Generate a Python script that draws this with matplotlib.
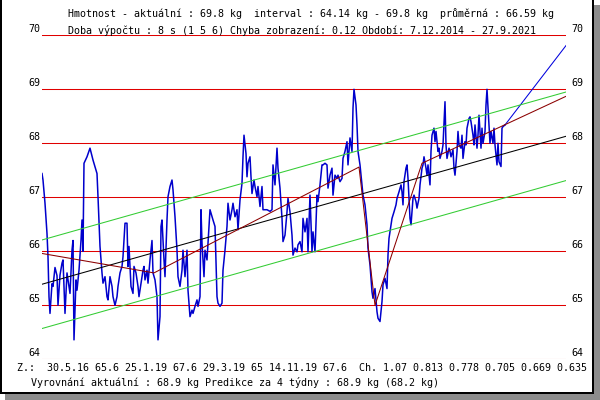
import matplotlib
matplotlib.use("Agg")
import matplotlib.pyplot as plt
import matplotlib.patches as patches
import matplotlib.transforms as mtransforms
import numpy as np

# weight samples (time in plot steps, weight in kg)
t = [0, 1, 3, 5, 6, 7, 8, 10, 11, 13,
     15, 16, 18, 20, 21, 23, 25, 26, 28, 30,
     31, 32, 34, 35, 37, 39, 40, 41, 42, 45,
     48, 51, 55, 56, 58, 60, 61, 63, 65, 66,
     68, 70, 71, 73, 75, 76, 78, 80, 81, 83,
     85, 86, 87, 89, 91, 92, 94, 96, 97, 99,
     101, 102, 103, 105, 106, 108, 110, 111, 113, 115,
     116, 118, 119, 120, 122, 123, 125, 126, 128, 130,
     131, 133, 135, 136, 138, 140, 141, 143, 145, 146,
     148, 150, 151, 153, 155, 156, 158, 159, 160, 162,
     163, 165, 166, 168, 170, 171, 173, 175, 176, 178,
     180, 181, 183, 185, 186, 188, 190, 191, 193, 195,
     196, 198, 200, 201, 202, 204, 205, 206, 208, 209,
     210, 212, 213, 215, 216, 218, 220, 221, 225, 228,
     230, 231, 233, 235, 236, 238, 240, 241, 243, 245,
     246, 248, 250, 251, 253, 255, 256, 258, 260, 261,
     263, 265, 266, 268, 270, 271, 273, 275, 276, 278,
     280, 281, 283, 285, 286, 288, 290, 291, 293, 295,
     296, 298, 300, 301, 303, 305, 306, 308, 310, 311,
     312, 314, 315, 316, 318, 320, 321, 323, 325, 326,
     328, 330, 331, 333, 335, 336, 338, 340, 341, 343,
     345, 346, 347, 349, 350, 352, 354, 355, 357, 359,
     360, 361, 362, 364, 365, 366, 367, 368, 369, 371,
     372, 374, 375, 377, 378, 380, 381, 382, 384, 385,
     386, 388, 389, 390, 392, 393, 394, 396, 397, 398,
     400, 401, 403, 404, 405, 407, 408, 409, 411, 412,
     413, 415, 416, 417, 419, 420, 421, 423, 424, 425,
     427, 428, 429, 431, 432, 433, 435, 436, 437, 439,
     440, 441, 443, 444, 445, 447, 448, 449, 451, 452,
     453, 455, 456, 457, 459, 460, 461, 463]
w = [67.44, 67.32, 66.89, 66.33, 65.90, 65.16, 64.85, 65.40, 65.35, 65.70,
     65.55, 65.00, 65.56, 65.78, 65.84, 64.85, 65.60, 65.47, 65.22, 66.02,
     66.20, 64.36, 65.47, 65.28, 65.65, 66.20, 66.58, 66.00, 67.63, 67.75,
     67.91, 67.69, 67.44, 67.01, 66.09, 65.60, 65.41, 65.53, 65.16, 65.10,
     65.53, 65.35, 65.16, 65.00, 65.16, 65.35, 65.60, 65.72, 65.90, 66.52,
     66.52, 65.72, 66.09, 65.35, 65.22, 65.72, 65.60, 65.35, 65.16, 65.41,
     65.65, 65.72, 65.47, 65.65, 65.41, 65.84, 66.20, 65.60, 65.47, 65.16,
     64.36, 64.79, 66.46, 66.58, 65.84, 65.53, 66.58, 67.01, 67.20, 67.32,
     67.14, 66.64, 66.02, 65.53, 65.35, 65.65, 66.02, 65.53, 66.02, 65.28,
     64.79, 64.91, 64.85, 64.98, 65.10, 64.98, 65.16, 66.77, 66.15, 65.53,
     66.02, 65.84, 66.15, 66.77, 66.64, 66.58, 66.46, 65.16, 65.04, 64.98,
     65.04, 65.65, 66.02, 66.46, 66.89, 66.58, 66.77, 66.89, 66.64, 66.77,
     66.40, 66.95, 67.26, 67.75, 68.15, 67.81, 67.38, 67.63, 67.75, 67.38,
     67.07, 67.32, 67.20, 67.01, 67.20, 66.83, 67.20, 66.77, 66.77, 66.74,
     66.77, 67.60, 67.23, 67.91, 67.54, 67.17, 66.61, 66.18, 66.30, 66.73,
     66.98, 66.73, 66.30, 65.93, 66.06, 65.99, 66.12, 66.18, 65.99, 66.61,
     66.36, 66.61, 65.99, 67.04, 65.99, 66.36, 65.99, 67.04, 66.92, 67.23,
     67.60, 67.60, 67.63, 67.60, 67.17, 67.41, 67.54, 67.04, 67.41, 67.35,
     67.41, 67.29, 67.35, 67.72, 67.85, 68.03, 67.60, 68.10, 67.85, 68.65,
     69.00, 68.71, 68.34, 67.85, 67.60, 67.23, 67.04, 66.86, 66.49, 66.06,
     65.75, 65.25, 65.13, 65.31, 64.88, 64.76, 64.70, 65.07, 65.38, 65.50,
     65.31, 65.93, 66.24, 66.49, 66.61, 66.73, 66.86, 66.98, 67.10, 67.23,
     67.10, 66.86, 67.29, 67.54, 67.60, 67.35, 66.98, 66.61, 66.49, 66.98,
     67.04, 66.92, 66.80, 66.98, 67.23, 67.54, 67.60, 67.75, 67.54, 67.41,
     67.60, 67.23, 67.85, 68.15, 68.28, 68.03, 68.22, 67.85, 67.91, 67.72,
     67.85, 67.97, 68.77, 67.97, 67.72, 67.91, 67.85, 67.75, 67.88, 67.54,
     67.41, 67.85, 68.22, 67.97, 67.91, 68.15, 67.72, 68.03, 67.97, 68.28,
     68.46, 68.49, 68.40, 68.15, 67.97, 68.34, 67.91, 68.15, 68.52, 67.91,
     68.28, 68.00, 68.22, 68.71, 69.00, 68.34, 68.00, 68.22, 68.00, 68.28,
     67.97, 67.60, 68.00, 67.66, 67.57, 68.28, 68.31, 68.34]
assert len(t) == len(w)

# linear trend and its band
trend_t = [0, 524]
trend_w = [65.39, 68.13]
band = 0.82
# piecewise fit (breakpoints)
seg_t = [0, 112, 317, 333, 380, 524]
seg_w = [65.96, 65.60, 67.56, 65.00, 67.63, 68.87]
# prediction
pred_t = [463, 524]
pred_w = [68.34, 69.81]

yticks = [64, 65, 66, 67, 68, 69, 70]
t_end = 524

header1 = "Hmotnost - aktuální : 69.8 kg  interval : 64.14 kg - 69.8 kg  průměrná : 66.59 kg"
header2 = "Doba výpočtu : 8 s (1 5 6) Chyba zobrazení: 0.12 Období: 7.12.2014 - 27.9.2021"
footer1 = "Z.:  30.5.16 65.6 25.1.19 67.6 29.3.19 65 14.11.19 67.6  Ch. 1.07 0.813 0.778 0.705 0.669 0.635"
footer2 = "Vyrovnání aktuální : 68.9 kg Predikce za 4 týdny : 68.9 kg (68.2 kg)"

W, H = 600, 400
FONT = dict(family="DejaVu Sans Mono", size=7.2, color="black")


def px(x, y):
    return x / W, 1 - y / H


fig = plt.figure(figsize=(6, 4), dpi=100)
fig.patch.set_facecolor("white")

# frame + shadow
fig.add_artist(patches.Rectangle(px(5, 400), 595 / W, 6 / H, transform=fig.transFigure,
                                 facecolor="#8c8c8c", edgecolor="none"))
fig.add_artist(patches.Rectangle(px(594, 400), 6 / W, 395 / H, transform=fig.transFigure,
                                 facecolor="#8c8c8c", edgecolor="none"))
for (x0, y0, ww, hh) in [(0, 394, 2, 394), (0, 394, 594, 2), (592, 394, 2, 394)]:
    fig.add_artist(patches.Rectangle(px(x0, y0), ww / W, hh / H, transform=fig.transFigure,
                                     facecolor="black", edgecolor="none"))

left, right = 42, 566
top, bottom = 35.3, 359.3
ax = fig.add_axes([left / W, 1 - bottom / H, (right - left) / W, (bottom - top) / H])
ax.set_xlim(0, t_end)
ax.set_ylim(64, 70)
ax.axis("off")

for v in yticks:
    ax.plot([0, t_end], [v, v], color="#e00000", lw=0.75, zorder=1)

ax.plot(t, w, color="#0000cc", lw=1.1, zorder=2)
ax.plot(pred_t, pred_w, color="#0000dd", lw=0.75, zorder=2)

tw = np.array(trend_w)
ax.plot(trend_t, tw + band, color="#33cc33", lw=0.75, zorder=3)
ax.plot(trend_t, tw - band, color="#33cc33", lw=0.75, zorder=3)
ax.plot(trend_t, tw, color="black", lw=0.75, zorder=3)
ax.plot(seg_t, seg_w, color="#8b0000", lw=0.75, zorder=4)

# y labels on both sides, just above each line
lab_tr = mtransforms.offset_copy(ax.get_yaxis_transform(), fig=fig, x=0, y=6, units="dots")
for v in yticks:
    ax.text(-0.004, v, str(v), transform=lab_tr, ha="right", va="center", clip_on=False, **FONT)
    ax.text(1.011, v, str(v), transform=lab_tr, ha="left", va="center", clip_on=False, **FONT)

fig.text(*px(68, 14), header1, ha="left", va="center", **FONT)
fig.text(*px(68, 30), header2, ha="left", va="center", **FONT)
fig.text(*px(17, 368), footer1, ha="left", va="center", **FONT)
fig.text(*px(31, 383), footer2, ha="left", va="center", **FONT)

fig.savefig("out.png", dpi=100, facecolor="white")
